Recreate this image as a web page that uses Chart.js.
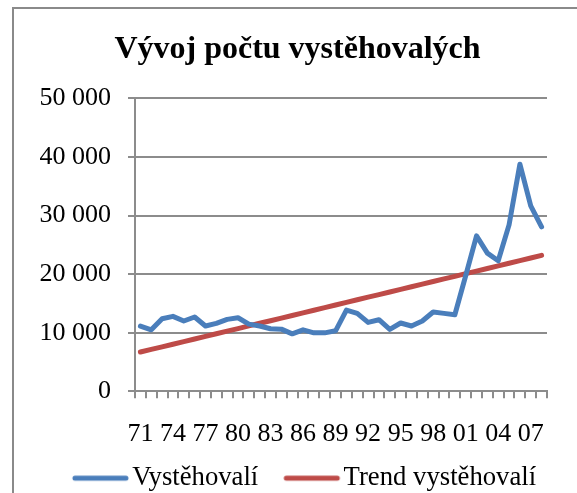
<!DOCTYPE html>
<html>
<head>
<meta charset="utf-8">
<script src="https://cdn.jsdelivr.net/npm/chart.js@4/dist/chart.umd.min.js"></script>
<style>
  body { margin: 0; background: #fff; overflow: hidden; }
  #frame { position: absolute; left: 12px; top: 7px; width: 700px; height: 600px;
           border-left: 2px solid #8a8a8a; border-top: 2px solid #8a8a8a; }
  #chart { position: absolute; left: 0; top: 0; }
</style>
</head>
<body>
<div id="frame"></div>
<canvas id="chart" width="577" height="493"></canvas>
<script>
// years 1971 - 2008, shown as two digits
const years = ['71','72','73','74','75','76','77','78','79','80',
               '81','82','83','84','85','86','87','88','89','90',
               '91','92','93','94','95','96','97','98','99','00',
               '01','02','03','04','05','06','07','08'];

const vystehovali = [11140, 10500, 12390, 12790, 12000, 12680, 11140, 11590, 12280, 12560,
                     11470, 11140, 10670, 10610, 9810, 10500, 9980, 9980, 10330, 13870,
                     13300, 11760, 12220, 10570, 11660, 11150, 12000, 13530, 13300, 13070,
                     19720, 26540, 23590, 22280, 28410, 38760, 31650, 28070];

const trend = [6700, 7150, 7590, 8040, 8480, 8930, 9380, 9820, 10270, 10710,
               11160, 11610, 12050, 12500, 12940, 13390, 13840, 14280, 14730, 15170,
               15620, 16070, 16510, 16960, 17400, 17850, 18300, 18740, 19190, 19630,
               20080, 20520, 20970, 21420, 21860, 22310, 22750, 23200];

const seriesNames = ['Vystěhovalí', 'Trend vystěhovalí'];
const yTicks = [0, 10000, 20000, 30000, 40000, 50000];

const serif = 'Liberation Serif';
const gridGray = '#8c8c8c';
const blue = '#4a7ebb';
const red = '#be4b48';

// legend sample: a short thick line, sitting close to its text
function legendLine(color) {
    const c = document.createElement('canvas');
    c.width = 82;
    c.height = 8;
    const g = c.getContext('2d');
    g.strokeStyle = color;
    g.lineWidth = 5;
    g.lineCap = 'round';
    g.beginPath();
    g.moveTo(27, 4);
    g.lineTo(78, 4);
    g.stroke();
    return c;
}

new Chart(document.getElementById('chart'), {
    type: 'line',
    data: {
        labels: years,
        datasets: [
            {
                label: seriesNames[0],
                data: vystehovali,
                borderColor: blue,
                backgroundColor: blue,
                borderWidth: 5,
                borderCapStyle: 'round',
                borderJoinStyle: 'round',
                pointRadius: 0,
                pointStyle: legendLine(blue),
                tension: 0
            },
            {
                label: seriesNames[1],
                data: trend,
                borderColor: red,
                backgroundColor: red,
                borderWidth: 5,
                borderCapStyle: 'round',
                borderJoinStyle: 'round',
                pointRadius: 0,
                pointStyle: legendLine(red),
                tension: 0
            }
        ]
    },
    options: {
        responsive: false,
        animation: false,
        devicePixelRatio: 1,
        layout: { padding: { left: 18, right: 0, top: 0, bottom: -8.5 } },
        plugins: {
            title: {
                display: true,
                text: 'Vývoj počtu vystěhovalých',
                color: '#000',
                font: { family: serif, size: 32, weight: 'bold' },
                padding: { top: 31, bottom: 29 }
            },
            legend: {
                position: 'bottom',
                labels: {
                    color: '#000',
                    font: { family: serif, size: 26.7 },
                    usePointStyle: true,
                    pointStyleWidth: 60,
                    padding: 12
                }
            },
            tooltip: { enabled: false }
        },
        scales: {
            x: {
                offset: true,
                afterFit: function(scale) { scale.height = 61.5; },
                grid: {
                    offset: true,
                    drawOnChartArea: false,
                    drawTicks: true,
                    tickLength: 7,
                    color: gridGray,
                    lineWidth: 2
                },
                border: { color: gridGray, width: 2 },
                ticks: {
                    autoSkip: false,
                    maxRotation: 0,
                    color: '#000',
                    padding: 20.5,
                    font: { family: serif, size: 26 },
                    callback: function(value, index) {
                        return index % 3 === 0 ? years[index] : '';
                    }
                }
            },
            y: {
                min: yTicks[0],
                max: yTicks[yTicks.length - 1],
                afterFit: function(scale) { scale.width = 117; },
                afterBuildTicks: function(scale) {
                    scale.ticks = yTicks.map(v => ({ value: v }));
                },
                grid: {
                    color: gridGray,
                    lineWidth: 2,
                    tickLength: 7
                },
                border: { color: gridGray, width: 2 },
                ticks: {
                    color: '#000',
                    padding: 17,
                    font: { family: serif, size: 26 },
                    callback: function(value) {
                        return value.toString().replace(/\B(?=(\d{3})+(?!\d))/g, ' ');
                    }
                }
            },
            // empty space on the right of the plot, like the Excel chart
            yRight: {
                position: 'right',
                afterFit: function(scale) { scale.width = 30; },
                grid: { display: false },
                border: { display: false },
                ticks: { display: false }
            }
        }
    }
});
</script>
</body>
</html>
